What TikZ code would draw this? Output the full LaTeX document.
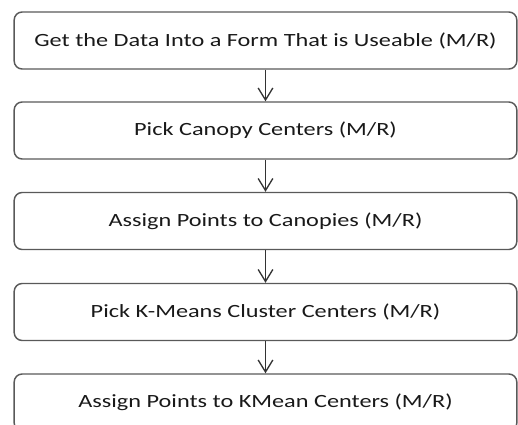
\documentclass[tikz,border=0pt]{standalone}
\usepackage{fontspec}
\setmainfont{Carlito}[FakeStretch=1.3]
\usetikzlibrary{arrows.meta,positioning}

\begin{document}
\begin{tikzpicture}[x=0.75pt,y=-0.75pt,
  etapa/.style={draw=black!65, line width=1.1pt, rounded corners=6pt,
    minimum width=377pt, minimum height=42.75pt,
    font=\fontsize{14}{16}\selectfont, text=black!90},
  flujo/.style={draw=black!80, line width=1pt,
    -{Straight Barb[length=9pt,width=11pt]}}]
  % Marco
  \useasboundingbox (0,0) rectangle (518,425);
  \clip (0,0) rectangle (518,425);

  % Etapas
  \node[etapa] (getdata)  at (265.5,40.5)  {Get the Data Into a Form That is Useable (M/R)};
  \node[etapa] (canopy)   at (265.5,130.5) {Pick Canopy Centers (M/R)};
  \node[etapa] (assign)   at (265.5,221)   {Assign Points to Canopies (M/R)};
  \node[etapa] (kmeans)   at (265.5,312)   {Pick K-Means Cluster Centers (M/R)};
  \node[etapa] (kmassign) at (265.5,402.5) {Assign Points to KMean Centers (M/R)};

  % Flechas
  \draw[flujo] (getdata) -- (canopy);
  \draw[flujo] (canopy) -- (assign);
  \draw[flujo] (assign) -- (kmeans);
  \draw[flujo] (kmeans) -- (kmassign);
\end{tikzpicture}
\end{document}
